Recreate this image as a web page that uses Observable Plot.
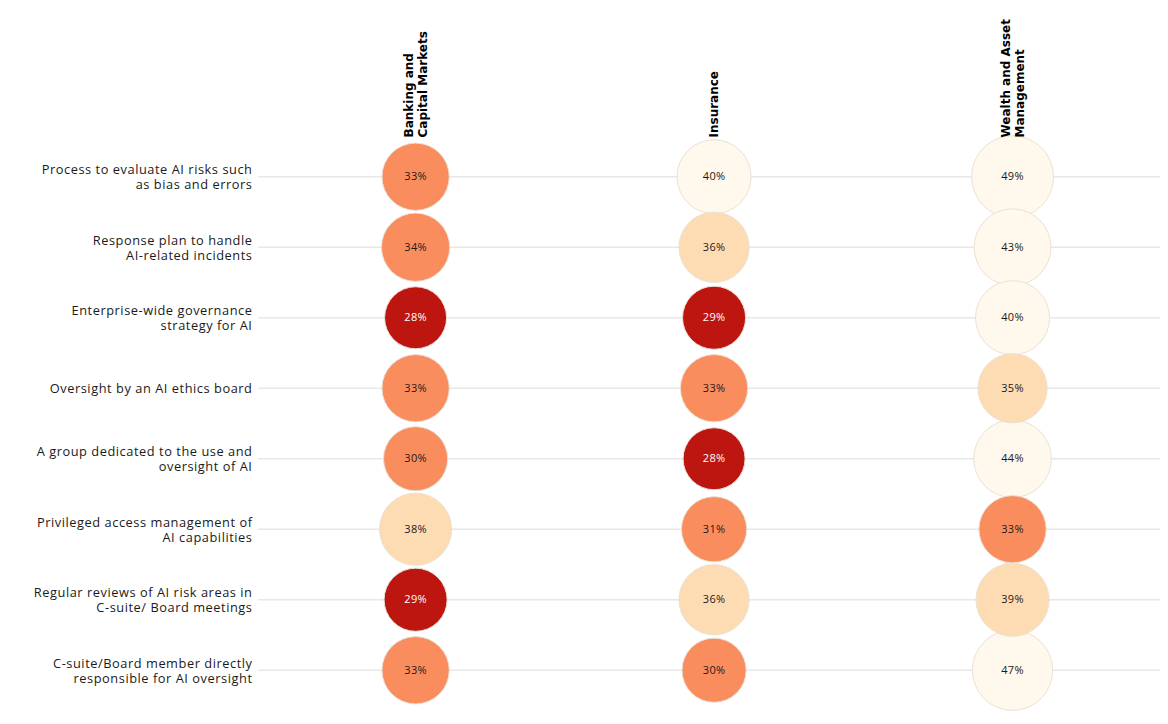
<!DOCTYPE html>
<html>
<head>
<meta charset="utf-8">
<script src="https://cdn.jsdelivr.net/npm/d3@7"></script>
<script src="https://cdn.jsdelivr.net/npm/@observablehq/plot@0.6"></script>
<style>
  html, body { margin: 0; padding: 0; background: #fff; }
  #chart svg { display: block; }
  #chart .rowlbl text { letter-spacing: 0.55px; }
  #chart .pct text { letter-spacing: 0.3px; }
  #chart .hdr text { font-family: 'DejaVu Sans', Verdana, sans-serif; }
</style>
</head>
<body>
<div id="chart"></div>
<script>
const sectors = ["Banking and\nCapital Markets", "Insurance", "Wealth and Asset\nManagement"];
const measures = [
  "Process to evaluate AI risks such\nas bias and errors",
  "Response plan to handle\nAI-related incidents",
  "Enterprise-wide governance\nstrategy for AI",
  "Oversight by an AI ethics board",
  "A group dedicated to the use and\noversight of AI",
  "Privileged access management of\nAI capabilities",
  "Regular reviews of AI risk areas in\nC-suite/ Board meetings",
  "C-suite/Board member directly\nresponsible for AI oversight"
];
const banking   = [33, 34, 28, 33, 30, 38, 29, 33];
const insurance = [40, 36, 29, 33, 28, 31, 36, 30];
const wealth    = [49, 43, 40, 35, 44, 33, 39, 47];

const thresholds = [30, 35, 40];
const palette = ["#bd1510", "#fa8d5e", "#fddcb4", "#fff8ec"];

const series = [banking, insurance, wealth];
const data = [];
sectors.forEach((s, i) => {
  measures.forEach((m, j) => {
    data.push({sector: s, measure: m, value: series[i][j]});
  });
});

const font = "'Open Sans', Roboto, sans-serif";

const chart = Plot.plot({
  width: 1168,
  height: 724,
  marginTop: 141,
  marginBottom: 19,
  marginLeft: 258,
  marginRight: 8,
  style: {fontFamily: font, background: "#fff"},
  x: {type: "point", domain: sectors, padding: 0.511, align: 0.515, round: false, axis: null},
  y: {type: "point", domain: measures, padding: 0.5, round: false, axis: null},
  r: {domain: [0, 49], range: [0, 41]},
  color: {type: "threshold", domain: thresholds, range: palette},
  marks: [
    Plot.ruleY(measures, {y: d => d, stroke: "#e8e8e8", strokeWidth: 1.5}),
    Plot.dot(data, {x: "sector", y: "measure", r: "value", fill: "value", stroke: "#ebe1d5", strokeWidth: 1}),
    Plot.text(data.filter(d => d.value < 30), {x: "sector", y: "measure", text: d => d.value + "%", fill: "#ffffff", fontSize: 11, className: "pct"}),
    Plot.text(data.filter(d => d.value >= 30), {x: "sector", y: "measure", text: d => d.value + "%", fill: "#1a1a1a", fontSize: 11, className: "pct"}),
    Plot.text(measures, {y: d => d, text: d => d, frameAnchor: "left", dx: -6, textAnchor: "end", fontSize: 12.8, lineHeight: 1.17, fill: "#1a1a1a", className: "rowlbl"}),
    Plot.text(sectors, {x: d => d, text: d => d, frameAnchor: "top", lineAnchor: "middle", dy: -4, rotate: -90, textAnchor: "start", fontSize: 12, fontWeight: "bold", lineHeight: 1.15, fill: "#000", className: "hdr"})
  ]
});
document.getElementById("chart").appendChild(chart);
</script>
</body>
</html>
